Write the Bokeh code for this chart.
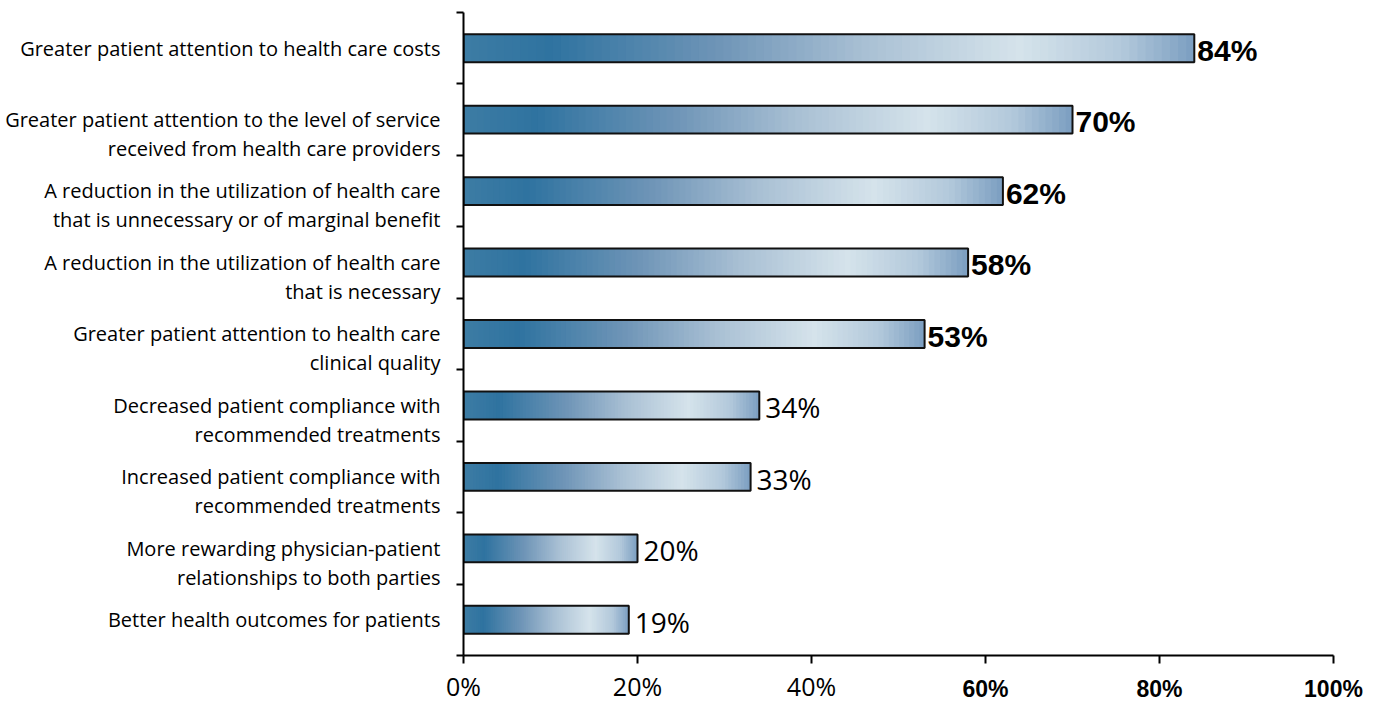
import numpy as np
from bokeh.plotting import figure
from bokeh.models import ColumnDataSource, Range1d, FixedTicker, LinearAxis
from bokeh.core.properties import value
from bokeh.embed import file_html
from bokeh.resources import INLINE

# ---------------- data ----------------
categories = [
    "Greater patient attention to health care costs",
    "Greater patient attention to the level of service\nreceived from health care providers",
    "A reduction in the utilization of health care\nthat is unnecessary or of marginal benefit",
    "A reduction in the utilization of health care\nthat is necessary",
    "Greater patient attention to health care\nclinical quality",
    "Decreased patient compliance with\nrecommended treatments",
    "Increased patient compliance with\nrecommended treatments",
    "More rewarding physician-patient\nrelationships to both parties",
    "Better health outcomes for patients",
]
values = [84, 70, 62, 58, 53, 34, 33, 20, 19]
x_ticks = [0, 20, 40, 60, 80, 100]
x_tick_labels = ["0%", "20%", "40%", "60%", "80%", "100%"]

# ---------------- style ----------------
GRAD_STOPS = [0.0, 0.12, 0.35, 0.55, 0.76, 0.9, 1.0]
GRAD_COLORS = ["#3d7ca4", "#2f73a0", "#6f95b7", "#a9c0d4", "#d5e3eb", "#b3c9db", "#7b9ec1"]
N_SLICES = 90
BAR_H = 0.39
BOLD_ABOVE = 50


def hex2rgb(h):
    h = h.lstrip("#")
    return [int(h[i:i + 2], 16) for i in (0, 2, 4)]


stop_rgb = np.array([hex2rgb(c) for c in GRAD_COLORS], dtype=float)


def grad_color(t):
    r, g, b = (int(round(np.interp(t, GRAD_STOPS, stop_rgb[:, k]))) for k in range(3))
    return "#%02x%02x%02x" % (r, g, b)


n = len(categories)
y_centers = [n - i - 0.5 for i in range(n)]

# gradient slices (slightly overlapping to avoid seams)
sl_left, sl_right, sl_y, sl_col = [], [], [], []
for v, yc in zip(values, y_centers):
    for j in range(N_SLICES):
        sl_left.append(v * j / N_SLICES)
        sl_right.append(min(v, v * (j + 2) / N_SLICES))
        sl_y.append(yc)
        sl_col.append(grad_color((j + 0.5) / N_SLICES))
slices = ColumnDataSource(dict(left=sl_left, right=sl_right, y=sl_y, color=sl_col))
bars = ColumnDataSource(dict(right=values, y=y_centers))

p = figure(width=1373, height=705, x_range=Range1d(0, 100), y_range=Range1d(0, n),
           output_backend="svg", toolbar_location=None,
           min_border_left=463, min_border_right=40, min_border_top=12, min_border_bottom=50)
p.grid.visible = False
p.outline_line_color = None
p.background_fill_color = "white"
p.border_fill_color = "white"

p.hbar(y="y", left="left", right="right", height=BAR_H, source=slices,
       fill_color="color", line_color=None)
p.hbar(y="y", left=0, right="right", height=BAR_H, source=bars,
       fill_color=None, line_color="#111111", line_width=2)

# value labels
bold_idx = [i for i, v in enumerate(values) if v > BOLD_ABOVE]
norm_idx = [i for i, v in enumerate(values) if v <= BOLD_ABOVE]
src_b = ColumnDataSource(dict(x=[values[i] for i in bold_idx], y=[y_centers[i] for i in bold_idx],
                              t=["%d%%" % values[i] for i in bold_idx]))
src_n = ColumnDataSource(dict(x=[values[i] for i in norm_idx], y=[y_centers[i] for i in norm_idx],
                              t=["%d%%" % values[i] for i in norm_idx]))
p.text(x="x", y="y", text="t", source=src_b, x_offset=3, y_offset=2,
       text_font=value("Liberation Sans"), text_font_style="bold", text_font_size="30px",
       text_baseline="middle", text_align="left", text_color="black")
p.text(x="x", y="y", text="t", source=src_n, x_offset=6, y_offset=2,
       text_font=value("Open Sans"), text_font_size="28px",
       text_baseline="middle", text_align="left", text_color="black")

# y axis: labels at bar centres (two-line labels start on the bar line), ticks at boundaries
label_pos = [yc - 0.2 * c.count("\n") for yc, c in zip(y_centers, categories)]
yax = p.yaxis[0]
yax.ticker = FixedTicker(ticks=label_pos, minor_ticks=list(range(n + 1)))
yax.major_label_overrides = {lp: c for lp, c in zip(label_pos, categories)}
yax.major_tick_line_color = None
yax.major_tick_out = 0
yax.major_tick_in = 0
yax.minor_tick_out = 7
yax.minor_tick_in = 0
yax.minor_tick_line_width = 2
yax.minor_tick_line_color = "black"
yax.axis_line_width = 2
yax.axis_line_color = "black"
yax.major_label_standoff = 16
yax.major_label_text_font = "Open Sans"
yax.major_label_text_font_size = "20px"
yax.major_label_text_color = "black"
yax.major_label_text_line_height = 1.07

# x axis A: line, ticks and the regular-weight labels
normal_labels = [lab if t <= BOLD_ABOVE else "" for t, lab in zip(x_ticks, x_tick_labels)]
bold_labels = [lab if t > BOLD_ABOVE else "" for t, lab in zip(x_ticks, x_tick_labels)]
xax = p.xaxis[0]
xax.ticker = FixedTicker(ticks=x_ticks, minor_ticks=[])
xax.major_label_overrides = {t: lab for t, lab in zip(x_ticks, normal_labels)}
xax.major_label_text_font = "Open Sans"
xax.major_label_text_font_size = "25px"
xax.major_label_text_color = "black"
xax.major_label_standoff = 5
xax.major_tick_out = 8
xax.major_tick_in = 0
xax.major_tick_line_width = 2
xax.major_tick_line_color = "black"
xax.axis_line_width = 2
xax.axis_line_color = "black"

# x axis B (stacked under A): bold labels pulled back up into A's label row
xax2 = LinearAxis(ticker=FixedTicker(ticks=x_ticks, minor_ticks=[]),
                  major_label_overrides={t: lab for t, lab in zip(x_ticks, bold_labels)},
                  major_label_text_font="Liberation Sans", major_label_text_font_style="bold",
                  major_label_text_font_size="23px", major_label_text_color="black",
                  major_label_standoff=-30, major_tick_out=0, major_tick_in=0,
                  major_tick_line_color=None, minor_tick_line_color=None, axis_line_color=None)
p.add_layout(xax2, "below")

open("out.html", "w").write(file_html(p, INLINE))
